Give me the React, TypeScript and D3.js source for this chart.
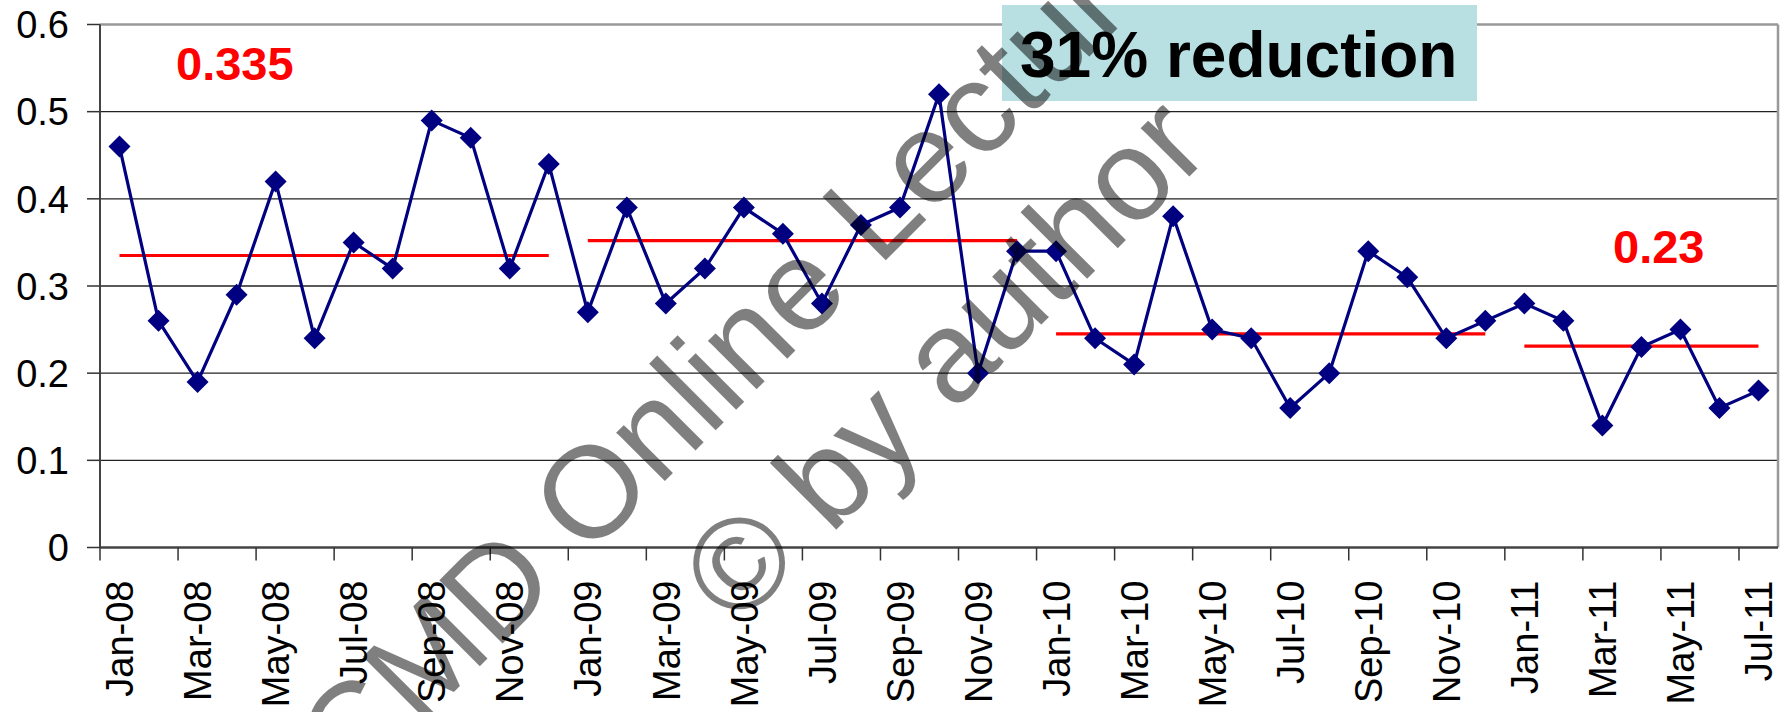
import * as d3 from 'd3';
import { useEffect, useRef } from 'react';

// monthly values, Jan-08 .. Jul-11
const months = [
    'Jan-08', 'Feb-08', 'Mar-08', 'Apr-08', 'May-08', 'Jun-08', 'Jul-08', 'Aug-08', 'Sep-08', 'Oct-08', 'Nov-08', 'Dec-08',
    'Jan-09', 'Feb-09', 'Mar-09', 'Apr-09', 'May-09', 'Jun-09', 'Jul-09', 'Aug-09', 'Sep-09', 'Oct-09', 'Nov-09', 'Dec-09',
    'Jan-10', 'Feb-10', 'Mar-10', 'Apr-10', 'May-10', 'Jun-10', 'Jul-10', 'Aug-10', 'Sep-10', 'Oct-10', 'Nov-10', 'Dec-10',
    'Jan-11', 'Feb-11', 'Mar-11', 'Apr-11', 'May-11', 'Jun-11', 'Jul-11',
];

const rates = [
    0.46, 0.26, 0.19, 0.29, 0.42, 0.24, 0.35, 0.32, 0.49, 0.47, 0.32, 0.44,
    0.27, 0.39, 0.28, 0.32, 0.39, 0.36, 0.28, 0.37, 0.39, 0.52, 0.2, 0.34,
    0.34, 0.24, 0.21, 0.38, 0.25, 0.24, 0.16, 0.2, 0.34, 0.31, 0.24, 0.26,
    0.28, 0.26, 0.14, 0.23, 0.25, 0.16, 0.18,
];

// red average lines: first month, last month, level
const averages = [
    { from: 'Jan-08', to: 'Dec-08', value: 0.335 },
    { from: 'Jan-09', to: 'Dec-09', value: 0.352 },
    { from: 'Jan-10', to: 'Dec-10', value: 0.245 },
    { from: 'Jan-11', to: 'Jul-11', value: 0.231 },
];

const yTicks = [0, 0.1, 0.2, 0.3, 0.4, 0.5, 0.6];

const FONT = 'Arial, "Liberation Sans", sans-serif';

const App = () => {
    const svgRef = useRef<SVGSVGElement>(null);

    useEffect(() => {
        const width = 1789;
        const height = 712;
        const left = 100;
        const right = 1778;
        const top = 24.5;
        const bottom = 547.5;

        const svg = d3.select(svgRef.current);
        svg.selectAll('*').remove();
        svg.attr('width', width).attr('height', height);

        svg.append('rect').attr('width', width).attr('height', height).attr('fill', '#fff');

        const x = d3.scaleBand().domain(months).range([left, right]).padding(0);
        const y = d3.scaleLinear().domain([0, 0.6]).range([bottom, top]);
        const cx = (m: string) => (x(m) as number) + x.bandwidth() / 2;

        // gridlines
        svg.selectAll('line.grid')
            .data(yTicks.filter((t) => t > 0 && t < 0.6))
            .enter()
            .append('line')
            .attr('class', 'grid')
            .attr('x1', left)
            .attr('x2', right)
            .attr('y1', (d) => y(d))
            .attr('y2', (d) => y(d))
            .attr('stroke', '#222')
            .attr('stroke-width', 1.3);

        // plot frame
        svg.append('line').attr('x1', left).attr('x2', right).attr('y1', top).attr('y2', top)
            .attr('stroke', '#999').attr('stroke-width', 2.5);
        svg.append('line').attr('x1', right).attr('x2', right).attr('y1', top).attr('y2', bottom)
            .attr('stroke', '#999').attr('stroke-width', 2.5);
        svg.append('line').attr('x1', left).attr('x2', left).attr('y1', top).attr('y2', bottom)
            .attr('stroke', '#444').attr('stroke-width', 2);
        svg.append('line').attr('x1', left).attr('x2', right).attr('y1', bottom).attr('y2', bottom)
            .attr('stroke', '#444').attr('stroke-width', 2.5);

        // y axis ticks + labels
        svg.selectAll('line.ytick')
            .data(yTicks)
            .enter()
            .append('line')
            .attr('x1', left - 13)
            .attr('x2', left)
            .attr('y1', (d) => y(d))
            .attr('y2', (d) => y(d))
            .attr('stroke', '#333')
            .attr('stroke-width', 1.5);
        svg.selectAll('text.ylab')
            .data(yTicks)
            .enter()
            .append('text')
            .attr('x', 69)
            .attr('y', (d) => y(d))
            .attr('dy', '0.36em')
            .attr('text-anchor', 'end')
            .style('font-family', FONT)
            .style('font-size', '38px')
            .attr('fill', '#000')
            .text((d) => d3.format('')(d));

        // x axis: ticks every 2 months at band edges, labels at band centres
        const every2 = months.filter((_, i) => i % 2 === 0);
        svg.selectAll('line.xtick')
            .data(every2)
            .enter()
            .append('line')
            .attr('x1', (d) => x(d) as number)
            .attr('x2', (d) => x(d) as number)
            .attr('y1', bottom)
            .attr('y2', bottom + 13)
            .attr('stroke', '#333')
            .attr('stroke-width', 1.5);
        svg.selectAll('text.xlab')
            .data(every2)
            .enter()
            .append('text')
            .attr('transform', (d) => `translate(${cx(d)}, ${bottom + 33}) rotate(-90)`)
            .attr('dy', '0.36em')
            .attr('text-anchor', 'end')
            .style('font-family', FONT)
            .style('font-size', '38px')
            .attr('fill', '#000')
            .text((d) => d);

        // average lines
        svg.selectAll('line.avg')
            .data(averages)
            .enter()
            .append('line')
            .attr('x1', (d) => cx(d.from))
            .attr('x2', (d) => cx(d.to))
            .attr('y1', (d) => y(d.value))
            .attr('y2', (d) => y(d.value))
            .attr('stroke', '#ff0000')
            .attr('stroke-width', 3.2);

        // series
        const line = d3
            .line<number>()
            .x((_, i) => cx(months[i]))
            .y((d) => y(d));
        svg.append('path')
            .attr('d', line(rates))
            .attr('fill', 'none')
            .attr('stroke', '#000080')
            .attr('stroke-width', 3.2);

        const r = 11;
        svg.selectAll('path.marker')
            .data(rates)
            .enter()
            .append('path')
            .attr('d', (d, i) => {
                const px = cx(months[i]);
                const py = y(d);
                return `M${px},${py - r}L${px + r},${py}L${px},${py + r}L${px - r},${py}Z`;
            })
            .attr('fill', '#000080');

        // annotations
        svg.append('text')
            .attr('x', 176)
            .attr('y', 80)
            .style('font-family', FONT)
            .style('font-size', '47px')
            .style('font-weight', 'bold')
            .attr('fill', '#ff0000')
            .text('0.335');
        svg.append('text')
            .attr('x', 1613)
            .attr('y', 262.5)
            .style('font-family', FONT)
            .style('font-size', '47px')
            .style('font-weight', 'bold')
            .attr('fill', '#ff0000')
            .text('0.23');

        svg.append('rect')
            .attr('x', 1002)
            .attr('y', 5)
            .attr('width', 475)
            .attr('height', 96)
            .attr('fill', '#b8dfe2');
        svg.append('text')
            .attr('x', 1020)
            .attr('y', 77)
            .style('font-family', FONT)
            .style('font-size', '64px')
            .style('font-weight', 'bold')
            .attr('fill', '#000')
            .text('31% reduction');

        // watermark
        const wm = svg.append('g').attr('fill', '#000').attr('fill-opacity', 0.5)
            .style('font-family', FONT).style('font-size', '130px');
        wm.append('text')
            .attr('transform', 'translate(352, 794) rotate(-45)')
            .text('CMD Online Lecture');
        wm.append('text')
            .attr('transform', 'translate(737, 629) rotate(-45)')
            .text('© by author');
    }, []);

    return (
        <div>
            <svg ref={svgRef} style={{ position: 'absolute', left: 0, top: 0, display: 'block' }} />
        </div>
    );
};

export default App;
